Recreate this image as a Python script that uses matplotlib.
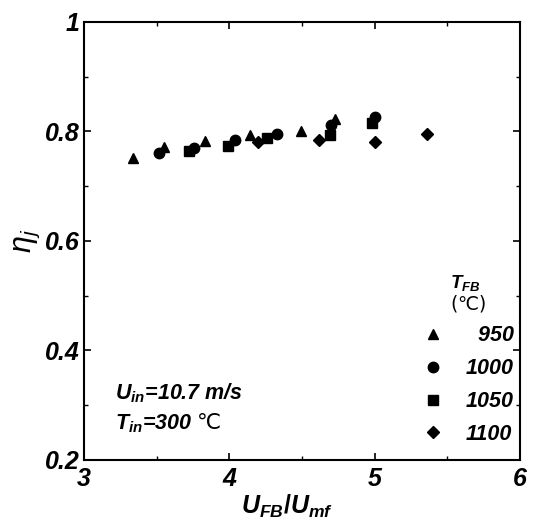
import numpy as np
import matplotlib
matplotlib.use("Agg")
import matplotlib.pyplot as plt
from matplotlib.ticker import MultipleLocator

plt.rcParams['font.family'] = ['Liberation Sans', 'DejaVu Sans']
plt.rcParams['mathtext.fontset'] = 'custom'
plt.rcParams['mathtext.it'] = 'Liberation Sans:bold:italic'
plt.rcParams['mathtext.rm'] = 'Liberation Sans:bold'
plt.rcParams['mathtext.sf'] = 'DejaVu Sans'
plt.rcParams['mathtext.cal'] = 'Liberation Sans:italic'

# bed temperature series (T_FB, deg C)
temps = ["950", "1000", "1050", "1100"]
markers = ["^", "o", "s", "D"]
msizes = [7, 7.5, 6.5, 6.5]

# U_FB/U_mf and eta_j
x950 = [3.34, 3.55, 3.83, 4.14, 4.49, 4.73]
y950 = [0.751, 0.771, 0.782, 0.793, 0.801, 0.823]
x1000 = [3.52, 3.76, 4.04, 4.33, 4.70, 5.00]
y1000 = [0.760, 0.770, 0.784, 0.795, 0.812, 0.826]
x1050 = [3.72, 3.99, 4.26, 4.69, 4.98]
y1050 = [0.764, 0.773, 0.788, 0.794, 0.815]
x1100 = [4.20, 4.62, 5.00, 5.36]
y1100 = [0.780, 0.785, 0.780, 0.796]

xs = [x950, x1000, x1050, x1100]
ys = [y950, y1000, y1050, y1100]

fig = plt.figure(figsize=(5.34, 5.26), dpi=100)
ax = fig.add_axes([0.157, 0.1255, 0.817, 0.833])

for i in range(len(temps)):
    # pad with figure spaces so labels line up on the right
    lab = "\u2007" * (4 - len(temps[i])) + temps[i]
    ax.plot(xs[i], ys[i], linestyle="none", marker=markers[i], ms=msizes[i],
            color="black", label=lab)

ax.set_xlim(3, 6)
ax.set_ylim(0.2, 1.0)
ax.xaxis.set_major_locator(MultipleLocator(1))
ax.xaxis.set_minor_locator(MultipleLocator(0.5))
ax.yaxis.set_major_locator(MultipleLocator(0.2))
ax.yaxis.set_minor_locator(MultipleLocator(0.1))
ax.set_yticks([0.2, 0.4, 0.6, 0.8, 1.0])
ax.set_yticklabels(["0.2", "0.4", "0.6", "0.8", "1"])

ax.tick_params(which="both", direction="in", top=True, right=True)
ax.tick_params(which="major", length=5, width=1.2, labelsize=18)
ax.tick_params(axis="x", which="major", pad=5)
ax.tick_params(axis="y", which="major", pad=3)
ax.tick_params(which="minor", length=3, width=1)
for lbl in ax.get_xticklabels() + ax.get_yticklabels():
    lbl.set_fontweight("bold")
    lbl.set_fontstyle("italic")
for sp in ax.spines.values():
    sp.set_linewidth(1.5)

ax.set_xlabel(r"$U_{FB}/U_{mf}$", fontsize=18)
ax.xaxis.set_label_coords(0.466, -0.075)
ax.set_ylabel(r"$\mathcal{\eta}_{\mathcal{j}}$", fontsize=22, labelpad=2)

ax.text(0.071, 0.153, r"$U_{in}$=10.7 m/s", transform=ax.transAxes,
        fontsize=15.5, fontweight="bold", fontstyle="italic", va="center")
ax.text(0.071, 0.084, r"$T_{in}$=300 $\mathsf{℃}$", transform=ax.transAxes,
        fontsize=15.5, fontweight="bold", fontstyle="italic", va="center")

leg = ax.legend(loc="lower right", bbox_to_anchor=(1.015, 0.005), frameon=False,
                title="$T_{FB}$\n$\\mathsf{(℃)}$", handlelength=1.0, handletextpad=1.0,
                labelspacing=0.55, borderaxespad=0.2,
                prop={"size": 15.5, "weight": "bold", "style": "italic"},
                title_fontproperties={"size": 13.5, "weight": "bold", "style": "italic"})
leg.get_title().set_linespacing(0.95)

fig.savefig("out.png", dpi=100)
